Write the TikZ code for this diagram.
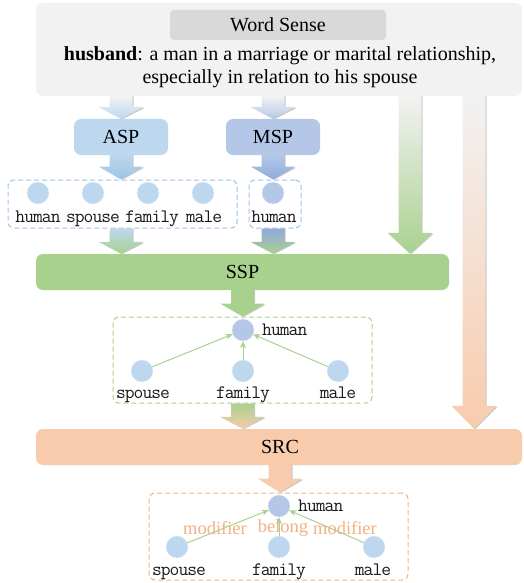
\documentclass[tikz,border=0pt]{standalone}
\usepackage{fontspec}
\setmainfont{Liberation Serif}
\newfontfamily\lblfont[LetterSpace=-5]{Latin Modern Mono}
\usetikzlibrary{calc,arrows.meta}
\definecolor{topgray}{HTML}{F2F2F2}
\definecolor{wsgray}{HTML}{D9D9D9}
\definecolor{aspblue}{HTML}{BDD7EE}
\definecolor{mspblue}{HTML}{B4C7E7}
\definecolor{darkblue}{HTML}{8FAADC}
\definecolor{midblue}{HTML}{9DC3E6}
\definecolor{sspgreen}{HTML}{A9D18E}
\definecolor{srcorange}{HTML}{F8CBAD}
\definecolor{dashorange}{HTML}{F4B183}
\newcommand\blk[5]{% start, tip, top colour, bottom colour, head length
  \fill[black!22] let \p1=(#1), \p2=(#2) in
    (\x2-10pt,\y1) -- (\x2+12.7pt,\y1) -- (\x2+12.7pt,\y2+#5pt-1pt) -- (\x2+23.5pt,\y2+#5pt-1pt) -- (\x2+1pt,\y2-0.5pt) -- cycle;
  \shade[top color=#3, bottom color=#4] let \p1=(#1), \p2=(#2) in
    (\x2-11.5pt,\y1) -- (\x2+11.5pt,\y1) -- (\x2+11.5pt,\y2+#5pt) -- (\x2+22.5pt,\y2+#5pt) -- (\x2,\y2) -- (\x2-22.5pt,\y2+#5pt) -- (\x2-11.5pt,\y2+#5pt) -- cycle;}
\tikzset{
  bigbox/.style={rounded corners=7pt, inner sep=0pt, font=\fontsize{20}{23}\selectfont},
  dot/.style={circle, minimum size=22pt, inner sep=0pt, draw=white!60!#1, fill=#1},
  lbl/.style={font=\lblfont\fontsize{19}{21}\selectfont, text=black!90, inner sep=0pt, anchor=base},
  dbox/.style={draw=#1, rounded corners=6pt, line width=1pt, dash pattern=on 5pt off 3pt},
  rel/.style={draw=sspgreen, line width=1pt, -{Stealth[length=7pt,width=6pt]}},
  edgelbl/.style={font=\fontsize{18.5}{20}\selectfont, text=dashorange, inner sep=0pt},
}
\begin{document}
\begin{tikzpicture}[x=1pt,y=-1pt]
\useasboundingbox (0,0) rectangle (524,583);
\node[bigbox, fill=topgray, minimum width=486pt, minimum height=93pt] (ws) at (279,49.5) {};
\coordinate (asptop) at (121,119);
\coordinate (msptop) at (273,119);
\coordinate (g1) at (410,96);
\coordinate (o1) at (474,96);
\node[bigbox, fill=sspgreen, minimum width=413pt, minimum height=36pt] (ssp) at (242.5,272) {SSP};
\node[bigbox, fill=srcorange, minimum width=486pt, minimum height=36pt] (src) at (279,447) {};
\node[font=\fontsize{20}{23}\selectfont] (srct) at (280,447) {SRC};
\blk{g1}{ssp.north -| g1}{topgray}{sspgreen}{21}
\blk{o1}{src.north -| o1}{topgray}{srcorange}{23}
\blk{ws.south -| asptop}{asptop}{topgray}{aspblue}{12}
\blk{ws.south -| msptop}{msptop}{topgray}{mspblue}{12}
\node[bigbox, fill=topgray, minimum width=486pt, minimum height=93pt] (ws2) at (279,49.5) {};
\node[fill=wsgray, rounded corners=4pt, minimum width=216pt, minimum height=30pt, inner sep=0pt, font=\fontsize{20}{23}\selectfont] (wsl) at (278,25) {Word Sense};
\node[align=center, font=\fontsize{20}{23.5}\selectfont, inner sep=0pt] (def) at (280,67) {\textbf{husband}: a man in a marriage or marital relationship,\\ especially in relation to his spouse};
\node[bigbox, fill=aspblue, minimum width=94pt, minimum height=36pt] (asp) at (121,137) {ASP};
\node[bigbox, fill=mspblue, minimum width=94pt, minimum height=36pt] (msp) at (273,137) {MSP};
\node[dbox=midblue, minimum width=229pt, minimum height=48pt] (b1) at (122.5,204) {};
\node[dbox=midblue, minimum width=52pt, minimum height=48pt] (b2) at (275,204) {};
\blk{asp.south}{b1.north -| asp}{aspblue}{midblue}{13}
\blk{msp.south}{b2.north -| msp}{mspblue}{darkblue}{13}
\node[dot=aspblue] (c1) at (38,193) {};
\node[dot=aspblue] (c2) at (93,193) {};
\node[dot=aspblue] (c3) at (148,193) {};
\node[dot=aspblue] (c4) at (203,193) {};
\node[dot=mspblue] (c5) at (273,193) {};
\node[lbl] (l1) at (38,222) {human};
\node[lbl] (l2) at (93,222) {spouse};
\node[lbl] (l3) at (152,222) {family};
\node[lbl] (l4) at (204,222) {male};
\node[lbl] (l5) at (274,222) {human};
\blk{b1.south -| asp}{ssp.north -| asp}{aspblue}{sspgreen}{12}
\blk{b2.south -| msp}{ssp.north -| msp}{darkblue}{sspgreen}{12}
\node[dbox=sspgreen, minimum width=259pt, minimum height=86pt] (gb) at (242.5,360) {};
\blk{ssp.south -| gb}{gb.north}{sspgreen}{sspgreen}{13}
\node[dot=mspblue] (gh) at (243,330) {};
\node[dot=aspblue] (gs) at (142,371) {};
\node[dot=aspblue] (gf) at (243,371) {};
\node[dot=aspblue] (gm) at (338,371) {};
\node[lbl, anchor=base west] (ghl) at (262,335) {human};
\node[lbl] (gsl) at (143,398) {spouse};
\node[lbl] (gfl) at (243,398) {family};
\node[lbl] (gml) at (338,398) {male};
\draw[rel] (gs) -- (gh);
\draw[rel] (gf) -- (gh);
\draw[rel] (gm) -- (gh);
\blk{gb.south}{src.north -| gb}{sspgreen}{srcorange}{12}
\node[dbox=dashorange, minimum width=259pt, minimum height=87pt] (ob) at (278.5,536.5) {};
\blk{src.south -| srct}{ob.north -| srct}{srcorange}{srcorange}{14}
\node[dot=mspblue] (oh) at (279,506) {};
\node[dot=aspblue] (os) at (177,547) {};
\node[dot=aspblue] (of) at (279,547) {};
\node[dot=aspblue] (om) at (374,547) {};
\node[lbl, anchor=base west] (ohl) at (298,511) {human};
\node[lbl] (osl) at (179,575) {spouse};
\node[lbl] (ofl) at (279,575) {family};
\node[lbl] (oml) at (373,575) {male};
\node[edgelbl] (e1) at (215,528) {modifier};
\node[edgelbl] (e2) at (283,528) {belong};
\node[edgelbl] (e3) at (345,528) {modifier};
\draw[rel] (os) -- (oh);
\draw[rel] (of) -- (oh);
\draw[rel] (om) -- (oh);
\end{tikzpicture}
\end{document}
